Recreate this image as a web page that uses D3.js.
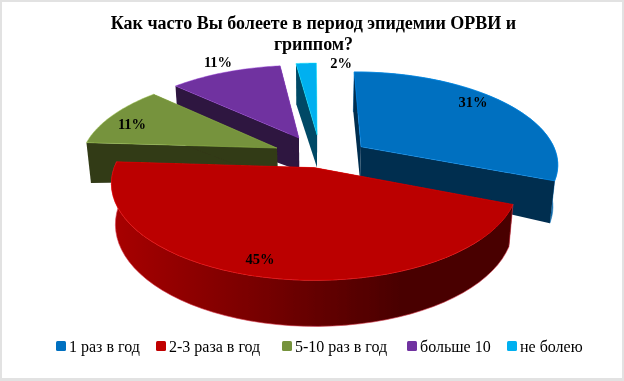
<!DOCTYPE html>
<html><head><meta charset="utf-8">
<script src="https://cdnjs.cloudflare.com/ajax/libs/d3/7.8.5/d3.min.js"></script>
<style>html,body{margin:0;padding:0;background:#fff}svg{display:block}text{font-family:"Liberation Serif",serif;fill:#000}</style>
</head><body><svg id="c" width="624" height="381"></svg>
<script>
const categories = ["1 раз в год","2-3 раза в год","5-10 раз в год","больше 10","не болею"];
const values = [31,45,11,11,2];
const labels = ["31%","45%","11%","11%","2%"];
const titleLines = ["Как часто Вы болеете в период эпидемии ОРВИ и","гриппом?"];
const topColors = ["#0070c0","#bb0000","#76933c","#7030a0","#00b0f0"];
const legendColors = ["#0070c0","#c00000","#76933c","#7030a0","#00b0f0"];
const sideColors = ["#002d4f","url(#redSide)","#313a18","#2d1340","#004a66"];
const rimColors = ["#0a5f9e","url(#redSide)","#313a18","#2d1340","#004a66"];

const W=624,H=381;
const svg=d3.select("#c");
const defs=svg.append("defs");
const g=defs.append("linearGradient").attr("id","redSide").attr("gradientUnits","userSpaceOnUse")
  .attr("x1",118).attr("x2",400).attr("y1",0).attr("y2",0);
g.append("stop").attr("offset",0).attr("stop-color","#a60000");
g.append("stop").attr("offset",.68).attr("stop-color","#660000");
g.append("stop").attr("offset",1).attr("stop-color","#4a0000");
defs.append("filter").attr("id","soft").append("feGaussianBlur").attr("stdDeviation",.35);

// frame
svg.append("rect").attr("width",W).attr("height",H).attr("fill","#e2e2e2");
svg.append("rect").attr("x",2).attr("y",2).attr("width",W-4).attr("height",H-5).attr("fill","#fff");

// ground-plane perspective projection
const Cx=312,Cy=153,Rx=195,Ry=89,K=.163,shrink=.98;
const explode=[[.254,.07],[.012,-.16],[-.181,.056],[-.069,.173],[.027,.21]];
function topPt(x,y){const s=1/(1+K*y);return [Cx+Rx*x*s,Cy-Ry*y*s];}
function depth(x,y){return 31+8*Math.hypot(x,y)-5*Math.min(y,0);}
function botPt(x,y){const p=topPt(x,y);return [Cx+(p[0]-Cx)*shrink,p[1]+depth(x,y)];}

const arcs=d3.pie().sort(null).value(d=>d).startAngle(0).endAngle(2*Math.PI)(values);
const line=d3.line();
function slice(i){
  const a=arcs[i],[ex,ey]=explode[i];
  const rim=d3.range(0,1.0001,1/48).map(t=>{
    const th=a.startAngle+(a.endAngle-a.startAngle)*t;
    return [ex+Math.sin(th),ey+Math.cos(th)];
  });
  return {apex:[ex,ey],rim};
}
const order=[4,3,2,0,1];
const pies=svg.append("g").attr("filter","url(#soft)");
order.forEach(i=>{
  const s=slice(i),G=pies.append("g");
  const T=p=>topPt(p[0],p[1]),B=p=>botPt(p[0],p[1]);
  const first=s.rim[0],last=s.rim[s.rim.length-1];
  if(i==0){
    G.append("path").attr("d",line(s.rim.map(T).concat(s.rim.slice().reverse().map(B)))+"Z")
     .attr("fill",rimColors[i]).attr("stroke","#1f78b8").attr("stroke-width",.6);
  }
  [first,last].forEach(e=>{
    G.append("path").attr("d",line([T(s.apex),T(e),B(e),B(s.apex)])+"Z").attr("fill",sideColors[i]);
  });
  if(i==1){ // the red rim sits in front of its own radial walls
    G.append("path").attr("d",line(s.rim.map(T).concat(s.rim.slice().reverse().map(B)))+"Z")
     .attr("fill",rimColors[i]).attr("stroke","#d84050").attr("stroke-width",.6);
  }
  G.append("path").attr("d",line([T(s.apex)].concat(s.rim.map(T)))+"Z")
   .attr("fill",topColors[i]).attr("stroke",d3.color(topColors[i]).brighter(.8)).attr("stroke-width",.5);
});

// text
const txt=svg.append("g").attr("filter","url(#soft)");
txt.selectAll(".t").data(titleLines).join("text").attr("class","t")
  .attr("x",Cx+1.5).attr("y",(d,i)=>29+i*21).attr("text-anchor","middle")
  .attr("font-size",18).attr("font-weight","bold").text(d=>d);
const labelAt=[[473,107],[260,264],[132,129],[218,67],[341,68]];
txt.selectAll(".l").data(labels).join("text").attr("class","l")
  .attr("x",(d,i)=>labelAt[i][0]).attr("y",(d,i)=>labelAt[i][1]).attr("text-anchor","middle")
  .attr("font-size",14.5).attr("font-weight","bold").text(d=>d);
const legendX=[56,156,282,407,507];
const lg=txt.selectAll(".lg").data(categories).join("g").attr("class","lg")
  .attr("transform",(d,i)=>`translate(${legendX[i]},341)`);
lg.append("rect").attr("width",10).attr("height",10).attr("rx",1.5).attr("fill",(d,i)=>legendColors[i]);
lg.append("text").attr("x",13).attr("y",11).attr("font-size",16).text(d=>d);
</script></body></html>
